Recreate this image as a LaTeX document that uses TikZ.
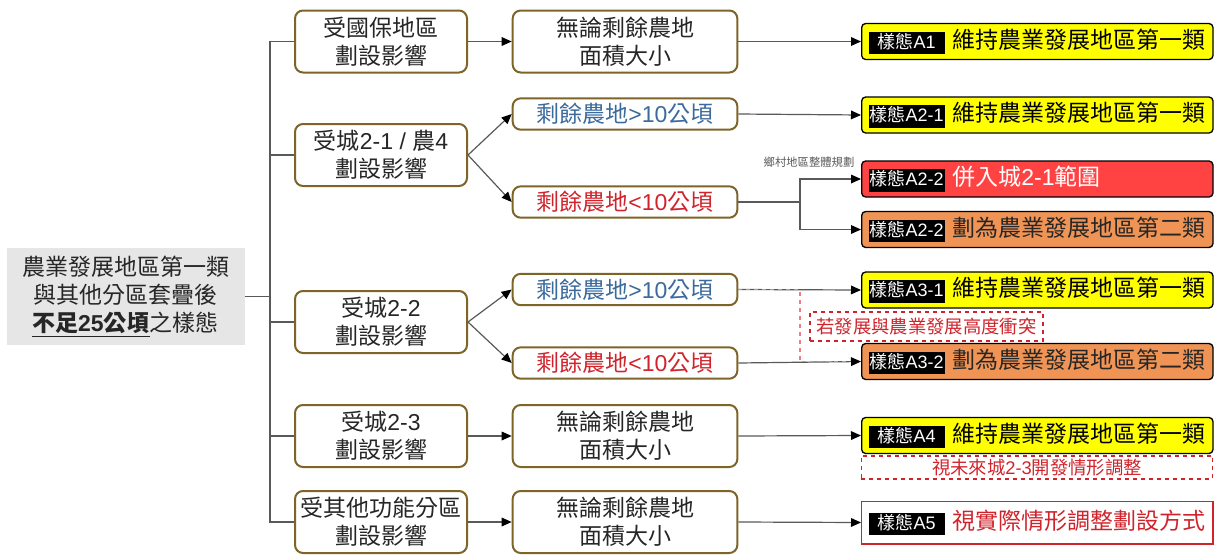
\documentclass[tikz,border=0pt]{standalone}
\usepackage{fontspec}
\setmainfont{Noto Sans CJK TC}
\newfontfamily\latfont{Liberation Sans}
\usetikzlibrary{arrows.meta}

\definecolor{framebrown}{HTML}{7F6428}
\definecolor{darktext}{HTML}{262626}
\definecolor{bluetext}{HTML}{3B6A9C}
\definecolor{redtext}{HTML}{D0242C}
\definecolor{linegray}{HTML}{595959}
\definecolor{rootgray}{HTML}{E6E6E6}
\definecolor{typeyellow}{HTML}{FFFF00}
\definecolor{typered}{HTML}{FF4343}
\definecolor{typeorange}{HTML}{EF9455}
\definecolor{dashpink}{HTML}{E8808A}

\newcommand{\mainfs}{\fontsize{17.25pt}{21pt}\selectfont}
\newcommand{\tagfs}{\fontsize{13.5pt}{16pt}\selectfont}
\newcommand{\notefs}{\fontsize{13.75pt}{16pt}\selectfont}
\newcommand{\tinyfs}{\fontsize{8.5pt}{10pt}\selectfont}
\newcommand{\en}[1]{{\latfont #1}}
\newcommand{\typetag}[1]{{\setlength{\fboxsep}{1pt}\colorbox{black}{\rule[-3.6pt]{0pt}{13.75pt}\makebox[55pt]{\tagfs\color{white}樣態\en{#1}}}}}

\tikzset{
  rootbox/.style={fill=rootgray, minimum width=178.5pt, minimum height=72.75pt,
    align=center, font=\mainfs, text=darktext},
  impbox/.style={draw=framebrown, line width=1.5pt, rounded corners=6pt, fill=white,
    minimum width=129pt, minimum height=46.5pt, align=center, font=\mainfs,
    text=darktext, inner sep=1pt},
  areabox/.style={impbox, minimum width=168.5pt},
  areashort/.style={areabox, minimum height=23.5pt},
  typebox/.style={draw=black, line width=1pt, rounded corners=3pt, minimum height=27pt,
    text width=253pt, inner xsep=5.25pt, inner ysep=0pt, align=left, font=\mainfs,
    anchor=west},
  notebox/.style={draw=redtext, dashed, line width=1pt, font=\notefs, text=redtext,
    inner sep=0pt},
  link/.style={draw=linegray, line width=0.9pt},
  arr/.style={link, -{Triangle[length=7.5pt,width=6.5pt,color=black]}},
}

\begin{document}
\begin{tikzpicture}[x=0.75pt,y=-0.75pt]
  \useasboundingbox (0,0) rectangle (1218,554);

  % Root
  \node[rootbox] (root) at (125.5,296.5)
    {農業發展地區第一類\\與其他分區套疊後\\\underline{\textbf{不足\en{25}公頃}}之樣態};

  % Impact column
  \node[impbox] (imp1) at (381,41.5) {受國保地區\\劃設影響};
  \node[impbox] (imp2) at (381,155) {受城\en{2-1 / }農\en{4}\\劃設影響};
  \node[impbox] (imp3) at (381,322) {受城\en{2-2}\\劃設影響};
  \node[impbox] (imp4) at (381,436) {受城\en{2-3}\\劃設影響};
  \node[impbox] (imp5) at (381,522) {受其他功能分區\\劃設影響};

  % Remaining area column
  \node[areabox] (area1) at (625,41.5) {無論剩餘農地\\面積大小};
  \node[areashort, text=bluetext] (area2a) at (625,114) {剩餘農地\en{>10}公頃};
  \node[areashort, text=redtext] (area2b) at (625,202) {剩餘農地\en{<10}公頃};
  \node[areashort, text=bluetext] (area3a) at (625,289.5) {剩餘農地\en{>10}公頃};
  \node[areashort, text=redtext] (area3b) at (625,363) {剩餘農地\en{<10}公頃};
  \node[areabox] (area4) at (625,436) {無論剩餘農地\\面積大小};
  \node[areabox] (area5) at (625,522) {無論剩餘農地\\面積大小};

  % Type column
  \node[typebox, fill=typeyellow] (typeA1) at (861,41.5)
    {\typetag{A1} 維持農業發展地區第一類};
  \node[typebox, fill=typeyellow] (typeA21) at (861,115)
    {\typetag{A2-1} 維持農業發展地區第一類};
  \node[typebox, fill=typered, text=white] (typeA22r) at (861,179)
    {\typetag{A2-2} 併入城\en{2-1}範圍};
  \node[typebox, fill=typeorange, text=darktext] (typeA22o) at (861,229.5)
    {\typetag{A2-2} 劃為農業發展地區第二類};
  \node[typebox, fill=typeyellow] (typeA31) at (861,290)
    {\typetag{A3-1} 維持農業發展地區第一類};
  \node[typebox, fill=typeorange, text=darktext] (typeA32) at (861,361.5)
    {\typetag{A3-2} 劃為農業發展地區第二類};
  \node[typebox, fill=typeyellow] (typeA4) at (861,435.5)
    {\typetag{A4} 維持農業發展地區第一類};
  \node[typebox, draw=redtext, rounded corners=0pt, fill=white, text=redtext,
    minimum height=32pt] (typeA5) at (861,522.5)
    {\typetag{A5} 視實際情形調整劃設方式};

  % Notes
  \node[font=\tinyfs, text=linegray] (rural) at (809,162) {鄉村地區整體規劃};
  \node[notebox, minimum width=174.75pt, minimum height=21.75pt] (noteA3)
    at (926.5,326.5) {若發展與農業發展高度衝突};
  \node[notebox, minimum width=263.5pt, minimum height=17.25pt] (noteA4)
    at (1037,467.5) {視未來城\en{2-3}開發情形調整};

  % Trunk
  \coordinate (trunk) at (270,296.5);
  \draw[link] (root.east) -- (trunk);
  \foreach \i in {1,...,5}
    \draw[link] (imp\i.west) -| (trunk);

  % Impact to area
  \draw[arr] (imp1.east) -- (area1.west);
  \draw[arr] (imp2.east) -- (area2a.west);
  \draw[arr] (imp2.east) -- (area2b.west);
  \draw[arr] (imp3.east) -- (area3a.west);
  \draw[arr] (imp3.east) -- (area3b.west);
  \draw[arr] (imp4.east) -- (area4.west);
  \draw[arr] (imp5.east) -- (area5.west);

  % Area to type
  \draw[arr] (area1.east) -- (typeA1.west);
  \draw[arr] (area2a.east) -- (typeA21.west);
  \coordinate (fork2) at (800,202);
  \draw[link] (area2b.east) -- (fork2);
  \draw[arr] (fork2) |- (typeA22r.west);
  \draw[arr] (fork2) |- (typeA22o.west);
  \draw[arr] (area3a.east) -- (typeA31.west);
  \draw[arr] (area3b.east) -- (typeA32.west);
  \draw[arr] (area4.east) -- (typeA4.west);
  \draw[arr] (area5.east) -- (typeA5.west);

  % Conflict route
  \coordinate (fork3) at (800,326);
  \draw[dashpink, dashed, line width=0.9pt, shorten >=9pt]
    (area3a.east) -| (fork3) |- (typeA32.west);
\end{tikzpicture}
\end{document}
